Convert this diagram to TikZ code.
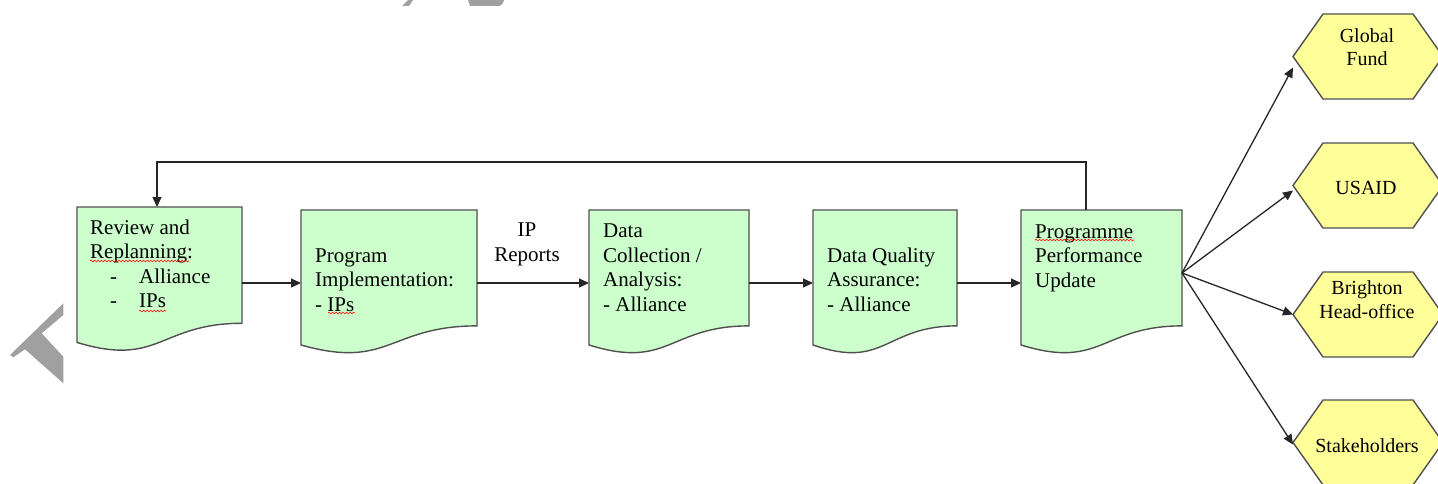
\documentclass[tikz,border=0pt]{standalone}
\usepackage{fontspec}
\setmainfont{Liberation Serif}
\usetikzlibrary{arrows.meta,decorations.pathmorphing}
\definecolor{docgreen}{HTML}{CCFFCC}
\definecolor{hexyellow}{HTML}{FFFF99}
\definecolor{edgegray}{HTML}{505050}
\definecolor{wmgray}{HTML}{A0A0A0}
\newcommand{\docshape}[4]{%
  \filldraw[docline] (#1,#2) -- ({#1+#3},#2) -- ({#1+#3},{#2+0.802*#4})
    .. controls ({#1+#3/2},{#2+0.802*#4}) and ({#1+#3/2},{#2+1.1075*#4}) .. (#1,{#2+0.934*#4}) -- cycle;}
\newcommand{\hexdraw}[1]{%
  \filldraw[hexline] (#1.west) -- ([xshift=30pt]#1.north west) -- ([xshift=-30pt]#1.north east)
    -- (#1.east) -- ([xshift=-30pt]#1.south east) -- ([xshift=30pt]#1.south west) -- cycle;}
\begin{document}
\begin{tikzpicture}[x=1pt,y=-1pt,
  docline/.style={draw=edgegray,line width=1.4pt,fill=docgreen},
  hexline/.style={draw=edgegray,line width=1.4pt,fill=hexyellow},
  anchorbox/.style={rectangle,draw=none,inner sep=0pt,outer sep=0pt},
  txt/.style={font=\fontsize{21}{24.5}\selectfont,align=left,inner sep=0pt,anchor=base west},
  ctxt/.style={txt,align=center,anchor=base},
  htxt/.style={ctxt,font=\fontsize{20}{23.5}\selectfont},
  conn/.style={draw=black!85,line width=1.3pt,-{Triangle[length=10pt,width=9pt]}},
  spell/.style={draw=red,line width=0.6pt,decorate,decoration={snake,amplitude=0.8pt,segment length=3.5pt}}]
\useasboundingbox (0,0) rectangle (1438,484);

% watermark fragments
\fill[wmgray] (63.3,303.3) -- (10,355) -- (13.3,357.3) -- (25,349.3) -- (63.3,383.3) -- (63.3,356.7) -- (41.7,333.3) -- (63.3,315) -- cycle;
\fill[wmgray] (402,6) -- (408,0) -- (413,0) -- (409,6) -- cycle;
\fill[wmgray] (468,0) -- (504,0) -- (503,3) .. controls (501,6) .. (495,6) -- (470,6) -- cycle;

% document boxes
\docshape{77}{207}{165}{145}
\docshape{301}{210}{176}{144.5}
\docshape{589}{210}{160}{144.5}
\docshape{813}{210}{144}{144.5}
\docshape{1021}{210}{161}{144.5}

\node[anchorbox,minimum width=165pt,minimum height=152pt] (b1) at (159.5,283) {};
\node[anchorbox,minimum width=176pt,minimum height=146pt] (b2) at (389,283) {};
\node[anchorbox,minimum width=160pt,minimum height=146pt] (b3) at (669,283) {};
\node[anchorbox,minimum width=144pt,minimum height=146pt] (b4) at (885,283) {};
\node[anchorbox,minimum width=161pt,minimum height=146pt] (b5) at (1101.5,283) {};

% text (base anchor = baseline of the last line)
\node[txt] (b1t) at (90,307.5) {Review and\\Replanning:\\\makebox[49pt][l]{\hspace{20pt}-}Alliance\\\makebox[49pt][l]{\hspace{20pt}-}IPs};
\node[txt] (b2t) at (315,311) {Program\\Implementation:\\- IPs};
\node[txt] (b3t) at (603,311) {Data\\Collection /\\Analysis:\\- Alliance};
\node[txt] (b4t) at (827,311) {Data Quality\\Assurance:\\- Alliance};
\node[txt] (b5t) at (1035,287) {Programme\\Performance\\Update};
\node[ctxt] (iprep) at (527,261) {IP\\Reports};

% spell-check marks
\draw[spell] (90,261) -- (189,261);
\draw[spell] (139,311) -- (166,311);
\draw[spell] (328,313) -- (355,313);
\draw[spell] (1035,240) -- (1134,240);

% hexagons
\node[anchorbox,minimum width=150pt,minimum height=85pt] (gf) at (1368,56.5) {};
\node[anchorbox,minimum width=150pt,minimum height=85pt] (us) at (1368,185.5) {};
\node[anchorbox,minimum width=150pt,minimum height=85pt] (br) at (1368,314.5) {};
\node[anchorbox,minimum width=150pt,minimum height=85pt] (st) at (1368,442.5) {};
\hexdraw{gf}
\hexdraw{us}
\hexdraw{br}
\hexdraw{st}
\node[htxt] (gft) at (1367,66) {Global\\Fund};
\node[htxt] (ust) at (1366,194) {USAID};
\node[htxt] (brt) at (1367,318) {Brighton\\Head-office};
\node[htxt] (stt) at (1367,452) {Stakeholders};

% connectors
\draw[conn] (b1.east) -- (b2.west);
\draw[conn] (b2.east) -- (b3.west);
\draw[conn] (b3.east) -- (b4.west);
\draw[conn] (b4.east) -- (b5.west);
\coordinate (fb) at (157,162);
\draw[conn] ([xshift=-15.5pt]b5.north) |- (fb) -- ([xshift=-2.5pt]b1.north);
\coordinate (fan) at ([yshift=10pt]b5.east);
\draw[conn] (fan) -- ([yshift=-11pt]gf.west);
\draw[conn] (fan) -- ([yshift=-5pt]us.west);
\draw[conn] (fan) -- (br.west);
\draw[conn] (fan) -- ([yshift=-2pt]st.west);
\end{tikzpicture}
\end{document}
